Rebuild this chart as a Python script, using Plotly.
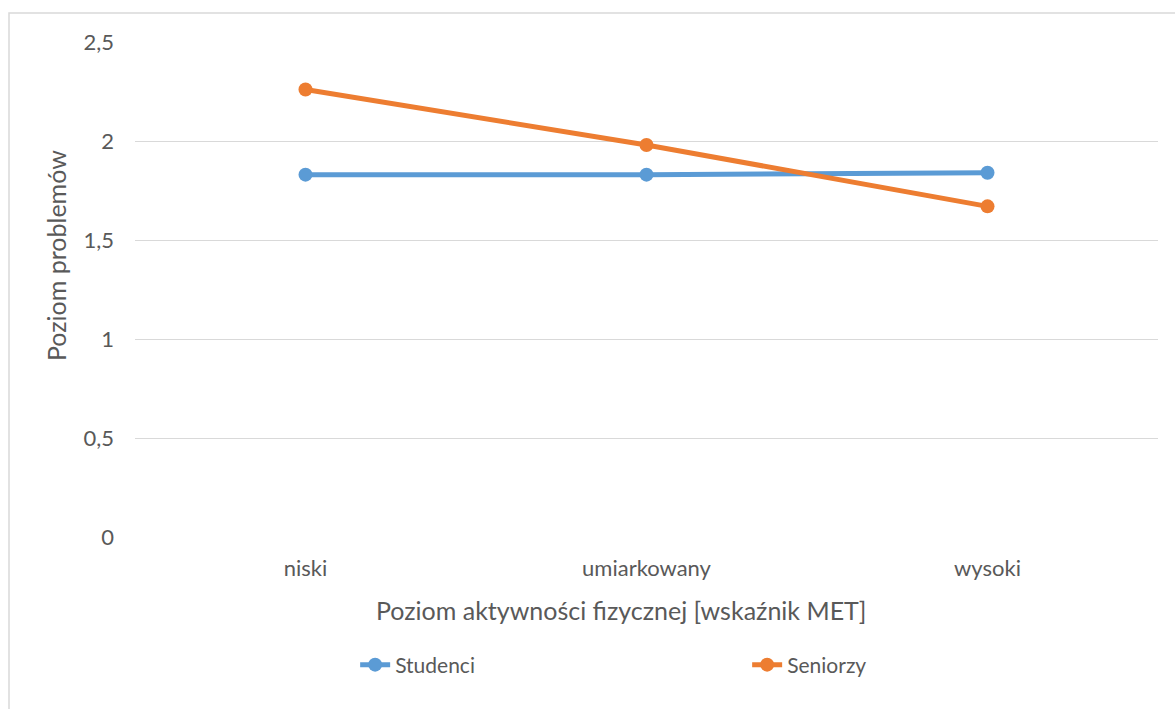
import plotly.graph_objects as go

# Activity levels (MET index) and mean problem level per group
categories = ["niski", "umiarkowany", "wysoki"]
studenci = [1.83, 1.83, 1.84]
seniorzy = [2.26, 1.98, 1.67]

y_ticks = [0, 0.5, 1, 1.5, 2, 2.5]
y_tick_labels = ["0", "0,5", "1", "1,5", "2", "2,5"]

x_title = "Poziom aktywności fizycznej [wskaźnik MET]"
y_title = "Poziom problemów"

FONT = "Lato, Open Sans, sans-serif"
TEXT = "#595959"

# plot area in pixels: left 135, right 1158, top 42, bottom 537
PLOT_L, PLOT_W, PLOT_B, PLOT_H = 135, 1023, 537, 495


def px_x(px):
    return (px - PLOT_L) / PLOT_W


def px_y(py):
    return (PLOT_B - py) / PLOT_H


fig = go.Figure()
fig.add_trace(go.Scatter(
    x=categories, y=studenci, name="Studenci", mode="lines+markers",
    line=dict(color="#5B9BD5", width=5),
    marker=dict(color="#5B9BD5", size=14),
))
fig.add_trace(go.Scatter(
    x=categories, y=seniorzy, name="Seniorzy", mode="lines+markers",
    line=dict(color="#ED7D31", width=5),
    marker=dict(color="#ED7D31", size=14),
))

fig.update_layout(
    width=1175, height=709,
    margin=dict(l=135, r=17, t=42, b=172),
    paper_bgcolor="white", plot_bgcolor="white",
    font=dict(family=FONT, color=TEXT, size=22),
    showlegend=True,
    legend=dict(
        orientation="h", x=0.2152, xanchor="left", y=-0.2586, yanchor="middle",
        entrywidth=347, entrywidthmode="pixels",
        font=dict(size=21, color=TEXT), itemclick=False,
    ),
    xaxis=dict(
        type="category", range=[-0.5, 2.5], showgrid=False, zeroline=False,
        showline=False, ticks="", ticklabelstandoff=16,
        tickfont=dict(size=22, color=TEXT),
    ),
    yaxis=dict(
        range=[0, 2.5], tickvals=y_ticks, ticktext=y_tick_labels,
        showgrid=True, gridcolor="#d9d9d9", gridwidth=1.3,
        zeroline=False, showline=False, ticks="", ticklabelstandoff=20,
        tickfont=dict(size=22, color=TEXT),
    ),
    annotations=[
        dict(text=x_title, xref="paper", yref="paper",
             x=px_x(621), y=px_y(610), xanchor="center", yanchor="middle",
             showarrow=False, font=dict(size=25, color=TEXT)),
        dict(text=y_title, xref="paper", yref="paper", textangle=-90,
             x=px_x(56), y=px_y(256), xanchor="center", yanchor="middle",
             showarrow=False, font=dict(size=25, color=TEXT)),
    ],
    shapes=[dict(
        type="rect", xref="paper", yref="paper",
        x0=px_x(9), x1=px_x(1185), y0=px_y(720), y1=px_y(13),
        line=dict(color="#d9d9d9", width=1.5), layer="below",
    )],
)

fig.write_html("out.html")
